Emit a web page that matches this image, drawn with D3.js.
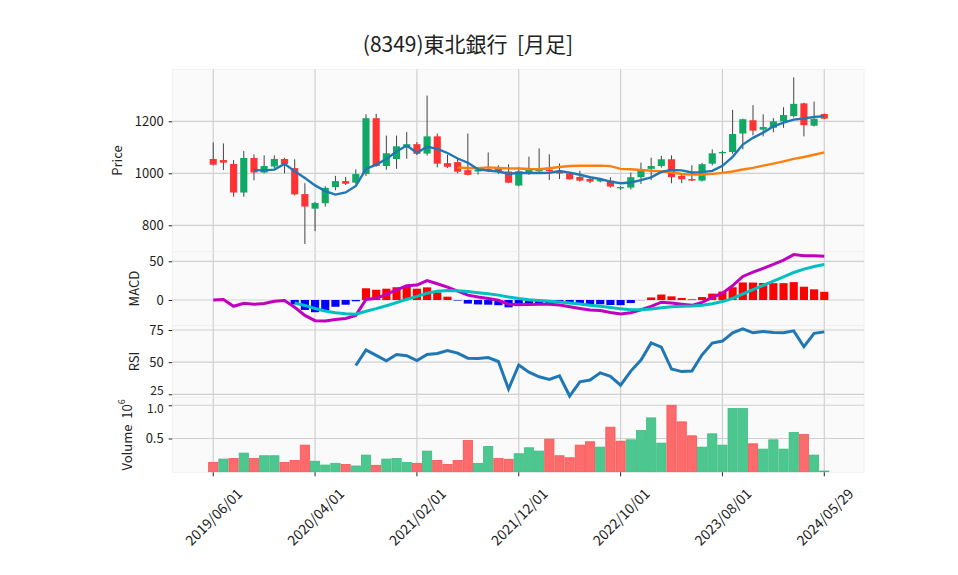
<!DOCTYPE html>
<html>
<head>
<meta charset="utf-8">
<script src="https://cdn.jsdelivr.net/npm/d3@7"></script>
<style>
  body { margin: 0; background: #fff; }
  svg text { font-family: "Noto Sans CJK JP", "Noto Sans", sans-serif; fill: #222; white-space: pre; }
</style>
</head>
<body>
<svg id="drawing_region"></svg>
<script>
// monthly bars, last row is the current (partial) month
const dates = [];
for (let i = 0; i < 60; i++) {
    const y = 2019 + Math.floor((5 + i) / 12), m = (5 + i) % 12 + 1;
    dates.push(`${y}/${String(m).padStart(2, '0')}/01`);
}
dates.push('2024/05/29');

const opens  = [1055,1051,1036,926,1059,1003,1026,1055,1020,920, 864,885,947,970,964,997,1212,1028,1055,1099,
                1112,1076,1142,1039,1043,1012,1007,1010,1017,1007, 953,1005,1008,1014,1009,1000,986,978,969,972,
                942,945,985,1017,1028,1054,990,978,972,1037, 1077,1082,1153,1204,1168,1175,1200,1220,1269,1183, 1228];
const highs  = [1119,1115,1051,1086,1073,1069,1069,1060,1054,962, 890,950,990,986,1015,1227,1229,1145,1145,1159,
                1120,1299,1153,1072,1056,1153,1020,1080,1031,1035, 1025,1064,1096,1073,1038,1003,1010,987,980,985,
                951,1003,1041,1060,1067,1069,995,1031,1040,1092, 1087,1244,1210,1262,1227,1212,1254,1369,1272,1276, 1230];
const lows   = [1030,1013,910,910,973,1000,1020,1000,915,728, 778,872,935,955,960,990,1025,1014,1017,1056,
                1070,1068,1023,1020,1000,992,995,1005,997,962, 950,994,1000,974,978,975,968,962,965,945,
                936,938,959,974,1022,962,962,970,968,1030, 1005,1075,1092,1146,1142,1158,1175,1215,1142,1180, 1208];
const closes = [1033,1041,926,1059,1003,1028,1055,1036,919,872, 886,944,970,960,997,1212,1028,1077,1104,1112,
                1075,1142,1037,1025,1006,994,1014,1016,1005,964, 1008,1013,1016,1008,999,977,972,968,974,949,
                947,985,1013,1028,1054,985,977,972,1035,1077, 1082,1151,1208,1164,1178,1200,1224,1267,1185,1210, 1210];
// volume in millions of shares
const volumes = [0.14,0.19,0.20,0.28,0.20,0.24,0.24,0.14,0.17,0.40, 0.157,0.10,0.126,0.11,0.086,0.25,0.096,0.19,0.20,0.14,
                 0.126,0.31,0.17,0.11,0.17,0.47,0.126,0.38,0.20,0.187, 0.27,0.36,0.31,0.49,0.24,0.21,0.40,0.45,0.37,0.67,
                 0.46,0.48,0.62,0.81,0.43,1.00,0.75,0.54,0.37,0.57, 0.40,0.95,0.95,0.42,0.34,0.48,0.34,0.59,0.56,0.25, 0.01];

const priceTicks = [800, 1000, 1200];
const macdTicks = [0, 50];
const rsiTicks = [25, 50, 75];
const volTicks = [0.5, 1.0];
const dateTickIdx = [0, 10, 20, 30, 40, 50, 60];

// ---- indicators ----
function sma(arr, n) {
    return arr.map((d, i) => i < n - 1 ? null : d3.mean(arr.slice(i - n + 1, i + 1)));
}
function ema(arr, n) {
    const a = 2 / (n + 1);
    let out = [];
    arr.forEach((d, i) => out.push(i === 0 ? d : out[i - 1] + a * (d - out[i - 1])));
    return out;
}
const ma5 = sma(closes, 5);
const ma25 = sma(closes, 25);
const ema12 = ema(closes, 12), ema26 = ema(closes, 26);
const macd = ema12.map((d, i) => d - ema26[i]);
const signal = ema(macd, 9).map((d, i) => i < 8 ? null : d);
const hist = macd.map((d, i) => signal[i] === null ? null : d - signal[i]);
const rsi = closes.map((d, i) => {
    if (i < 14) return null;
    let up = 0, dn = 0;
    for (let k = i - 13; k <= i; k++) {
        const ch = closes[k] - closes[k - 1];
        if (ch > 0) up += ch; else dn -= ch;
    }
    return 100 * up / (up + dn);
});

// ---- layout ----
const W = 958, H = 575;
const L = 172.7, R = 864;
const panels = {
    price: [69.3, 251.7],
    macd:  [251.7, 325.5],
    rsi:   [325.5, 397.5],
    vol:   [397.5, 472.3],
};
const svg = d3.select('#drawing_region').attr('width', W).attr('height', H);

const x = d3.scaleLinear().domain([-3.98, 63.9]).range([L, R]);
const yPrice = d3.scaleLinear().domain([698.5, 1400]).range([panels.price[1], panels.price[0]]);
const yMacd = d3.scaleLinear().domain([-32.9, 62.4]).range([panels.macd[1], panels.macd[0]]);
const yRsi = d3.scaleLinear().domain([22.5, 78.5]).range([panels.rsi[1], panels.rsi[0]]);
const yVol = d3.scaleLinear().domain([-0.009, 1.117]).range([panels.vol[1], panels.vol[0]]);

const step = x(1) - x(0);
const gridColor = '#d0d0d0';
const up = '#10a865', down = '#ff3333';

// panel backgrounds + grid
function drawPanel(key, yscale, ticks, fmt) {
    const [t, b] = panels[key];
    const g = svg.append('g');
    g.append('rect').attr('x', L).attr('y', t).attr('width', R - L).attr('height', b - t)
        .attr('fill', '#fafafa').attr('stroke', '#eeeeee').attr('stroke-width', 0.8);
    g.selectAll('.vg').data(dateTickIdx).enter().append('line')
        .attr('x1', d => x(d)).attr('x2', d => x(d)).attr('y1', t).attr('y2', b)
        .attr('stroke', gridColor).attr('stroke-width', 1.2);
    g.selectAll('.hg').data(ticks).enter().append('line')
        .attr('x1', L).attr('x2', R).attr('y1', d => yscale(d)).attr('y2', d => yscale(d))
        .attr('stroke', gridColor).attr('stroke-width', 1.2);
    const ax = d3.axisLeft(yscale).tickValues(ticks).tickFormat(fmt).tickSize(3.5).tickPadding(5);
    const ag = svg.append('g').attr('transform', `translate(${L - 0.5},0)`).call(ax);
    ag.select('.domain').remove();
    ag.selectAll('text').style('font-size', '13px').attr('fill', '#222');
    ag.selectAll('line').attr('stroke', '#222');
    return ag;
}
drawPanel('price', yPrice, priceTicks, d3.format('d'));
drawPanel('macd', yMacd, macdTicks, d3.format('d'));
const rsiAxis = drawPanel('rsi', yRsi, rsiTicks, d3.format('d'));
const volAxis = drawPanel('vol', yVol, volTicks, d3.format('.1f'));
// the "25" and "1.0" labels sit very close, nudge them apart a little
rsiAxis.selectAll('.tick').filter(d => d === 25).select('text')
    .attr('dy', '0.05em').style('font-size', '12px');
volAxis.selectAll('.tick').filter(d => d === 1).select('text')
    .attr('dy', '0.62em').style('font-size', '12px');

// y labels
function yLabel(text, cx, key) {
    const cy = (panels[key][0] + panels[key][1]) / 2;
    return svg.append('text').attr('transform', `translate(${cx},${cy}) rotate(-90)`)
        .attr('text-anchor', 'middle').attr('dominant-baseline', 'central')
        .style('font-size', '13px').text(text);
}
yLabel('Price', 116, 'price');
yLabel('MACD', 133, 'macd');
yLabel('RSI', 133, 'rsi');
const vl = yLabel('Volume  10', 126, 'vol');
vl.append('tspan').attr('dy', -5).style('font-size', '9px').text('6');

// ---- candles ----
const cg = svg.append('g');
const idx = d3.range(closes.length);
cg.selectAll('.wick').data(idx).enter().append('line')
    .attr('x1', i => x(i)).attr('x2', i => x(i))
    .attr('y1', i => yPrice(highs[i])).attr('y2', i => yPrice(lows[i]))
    .attr('stroke', '#444').attr('stroke-width', 1);
const bw = step * 0.7;
cg.selectAll('.body').data(idx).enter().append('rect')
    .attr('x', i => x(i) - bw / 2).attr('width', bw)
    .attr('y', i => yPrice(Math.max(opens[i], closes[i])))
    .attr('height', i => Math.max(1, Math.abs(yPrice(opens[i]) - yPrice(closes[i]))))
    .attr('fill', i => closes[i] >= opens[i] ? up : down);

// moving averages
const maLine = d3.line().defined(d => d[1] !== null).x(d => x(d[0])).y(d => yPrice(d[1]));
svg.append('path').attr('d', maLine(ma25.map((d, i) => [i, d])))
    .attr('fill', 'none').attr('stroke', '#ff7f0e').attr('stroke-width', 2.4);
svg.append('path').attr('d', maLine(ma5.map((d, i) => [i, d])))
    .attr('fill', 'none').attr('stroke', '#1f77b4').attr('stroke-width', 2.4);

// ---- MACD ----
const hw = step * 0.8;
svg.append('g').selectAll('rect').data(idx.filter(i => hist[i] !== null)).enter().append('rect')
    .attr('x', i => x(i) - hw / 2).attr('width', hw)
    .attr('y', i => yMacd(Math.max(0, hist[i])))
    .attr('height', i => Math.abs(yMacd(hist[i]) - yMacd(0)))
    .attr('fill', i => hist[i] >= 0 ? '#ff0000' : '#0000ff');
const mLine = (sc) => d3.line().defined(d => d[1] !== null).x(d => x(d[0])).y(d => sc(d[1]));
svg.append('path').attr('d', mLine(yMacd)(macd.map((d, i) => [i, d])))
    .attr('fill', 'none').attr('stroke', '#bf00bf').attr('stroke-width', 3);
svg.append('path').attr('d', mLine(yMacd)(signal.map((d, i) => [i, d])))
    .attr('fill', 'none').attr('stroke', '#00bfbf').attr('stroke-width', 3);

// ---- RSI ----
svg.append('path').attr('d', mLine(yRsi)(rsi.map((d, i) => [i, d])))
    .attr('fill', 'none').attr('stroke', '#1f77b4').attr('stroke-width', 3);

// ---- volume ----
const volUp = i => i === 0 ? closes[0] >= opens[0] : closes[i] >= closes[i - 1];
svg.append('g').selectAll('rect').data(idx).enter().append('rect')
    .attr('x', i => x(i) - step / 2 + 0.5).attr('width', step - 1)
    .attr('y', i => yVol(volumes[i]))
    .attr('height', i => yVol(0) - yVol(volumes[i]))
    .attr('fill', i => volUp(i) ? '#4dc790' : '#fd6b6c')
    .attr('stroke', i => volUp(i) ? '#3dbb80' : '#f55555').attr('stroke-width', 0.8);

// ---- x axis ----
const xa = svg.append('g').attr('transform', `translate(0,${panels.vol[1]})`);
xa.selectAll('line').data(dateTickIdx).enter().append('line')
    .attr('x1', d => x(d)).attr('x2', d => x(d)).attr('y1', 0).attr('y2', 4)
    .attr('stroke', '#222');
xa.selectAll('text').data(dateTickIdx).enter().append('text')
    .attr('transform', d => `translate(${x(d)},${44}) rotate(-45)`)
    .attr('text-anchor', 'middle').attr('dominant-baseline', 'central')
    .style('font-size', '14px').text(d => dates[d]);

// title
svg.append('text').attr('x', 468).attr('y', 52).attr('text-anchor', 'middle')
    .style('font-size', '21px').text('(8349)東北銀行  [月足]');
</script>
</body>
</html>
